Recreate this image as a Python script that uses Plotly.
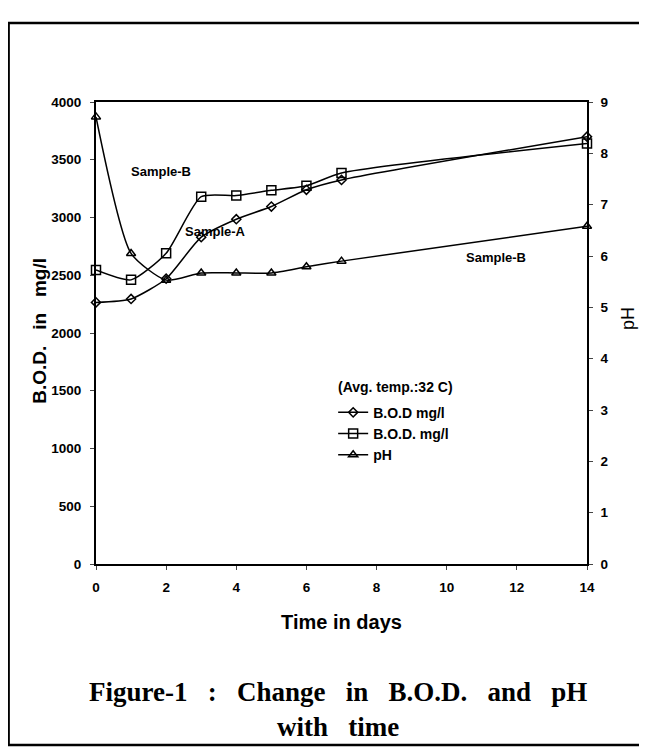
import plotly.graph_objects as go

days = [0, 1, 2, 3, 4, 5, 6, 7, 14]
bod_sample_a = [2265, 2295, 2470, 2830, 2985, 3095, 3240, 3325, 3700]
bod_sample_b = [2545, 2460, 2690, 3180, 3190, 3235, 3275, 3385, 3640]
ph_values = [8.71, 6.05, 5.53, 5.67, 5.67, 5.67, 5.79, 5.9, 6.58]

x_ticks = [0, 2, 4, 6, 8, 10, 12, 14]
bod_ticks = [0, 500, 1000, 1500, 2000, 2500, 3000, 3500, 4000]
ph_ticks = [0, 1, 2, 3, 4, 5, 6, 7, 8, 9]

sans = "Liberation Sans, Arial"
lab_font = dict(family=sans, size=13.5, color="black")

def bold(vals):
    return ["<b>%s</b>" % v for v in vals]

fig = go.Figure()
fig.add_trace(go.Scatter(
    x=days, y=bod_sample_a, name="<b>B.O.D mg/l</b>", mode="lines+markers",
    line=dict(color="black", width=1.5, shape="spline", smoothing=0.6),
    marker=dict(symbol="diamond-open", size=7, color="black", line=dict(width=1.5)),
    cliponaxis=False))
fig.add_trace(go.Scatter(
    x=days, y=bod_sample_b, name="<b>B.O.D. mg/l</b>", mode="lines+markers",
    line=dict(color="black", width=1.5, shape="spline", smoothing=0.6),
    marker=dict(symbol="square-open", size=9, color="black", line=dict(width=1.5)),
    cliponaxis=False))
fig.add_trace(go.Scatter(
    x=days, y=ph_values, name="<b>pH</b>", mode="lines+markers", yaxis="y2",
    line=dict(color="black", width=1.5, shape="spline", smoothing=0.6),
    marker=dict(symbol="triangle-up-open", size=8, color="black", line=dict(width=1.5)),
    cliponaxis=False))

ann_font = dict(family=sans, size=13, color="black")
annotations = [
    dict(x=1.85, y=3400, xref="x", yref="y", text="<b>Sample-B</b>", showarrow=False, font=ann_font),
    dict(x=3.4, y=2880, xref="x", yref="y", text="<b>Sample-A</b>", showarrow=False, font=ann_font),
    dict(x=11.4, y=2650, xref="x", yref="y", text="<b>Sample-B</b>", showarrow=False, font=ann_font),
    dict(x=8.55, y=1535, xref="x", yref="y", text="<b>(Avg. temp.:32 C)</b>", showarrow=False,
         font=dict(family=sans, size=14, color="black")),
    # axis titles placed as annotations to sit close to the tick labels, like the original
    dict(x=-0.115, y=0.504, xref="paper", yref="paper", xanchor="center", yanchor="middle",
         textangle=-90, text="<b>B.O.D.   in   mg/l</b>", showarrow=False,
         font=dict(family=sans, size=19, color="black")),
    dict(x=1.083, y=0.532, xref="paper", yref="paper", xanchor="center", yanchor="middle",
         textangle=-90, text="pH", showarrow=False,
         font=dict(family=sans, size=18, color="black")),
    dict(x=0.492, y=-0.316, xref="paper", yref="paper", xanchor="center", yanchor="middle",
         text="<b>Figure-1   :   Change   in   B.O.D.   and   pH<br>with   time</b>",
         showarrow=False, font=dict(family="Liberation Serif, Times New Roman", size=27, color="black")),
]

fig.update_layout(
    width=639, height=746,
    margin=dict(l=88, r=60, t=94, b=190),
    paper_bgcolor="white", plot_bgcolor="white",
    showlegend=True,
    legend=dict(x=0.483, y=0.362, xanchor="left", yanchor="top",
                font=dict(family=sans, size=14, color="black"),
                bgcolor="rgba(0,0,0,0)", tracegroupgap=0, itemwidth=30),
    annotations=annotations,
    xaxis=dict(range=[0, 14], tickvals=x_ticks, ticktext=bold(x_ticks),
               ticks="outside", ticklen=4, ticklabelstandoff=6,
               showline=True, linecolor="black", linewidth=2, mirror=True,
               showgrid=False, zeroline=False,
               tickfont=lab_font,
               title=dict(text="<b>Time in days</b>", font=dict(family=sans, size=20, color="black"), standoff=21)),
    yaxis=dict(range=[0, 4000], tickvals=bod_ticks, ticktext=bold(bod_ticks),
               ticks="outside", ticklen=4, ticklabelstandoff=6,
               showline=True, linecolor="black", linewidth=2,
               showgrid=False, zeroline=False,
               tickfont=lab_font),
    yaxis2=dict(range=[0, 9], tickvals=ph_ticks, ticktext=bold(ph_ticks), overlaying="y", side="right",
                ticks="outside", ticklen=4, ticklabelstandoff=5,
                showline=True, linecolor="black", linewidth=1.5,
                showgrid=False, zeroline=False,
                tickfont=lab_font),
    font=dict(family=sans, color="black"),
)

fig.add_shape(type="rect", xref="paper", yref="paper",
              x0=-0.178, x1=1.115, y0=-0.392, y1=1.171,
              line=dict(color="black", width=2.5), fillcolor="rgba(0,0,0,0)")

fig.write_html("out.html")
